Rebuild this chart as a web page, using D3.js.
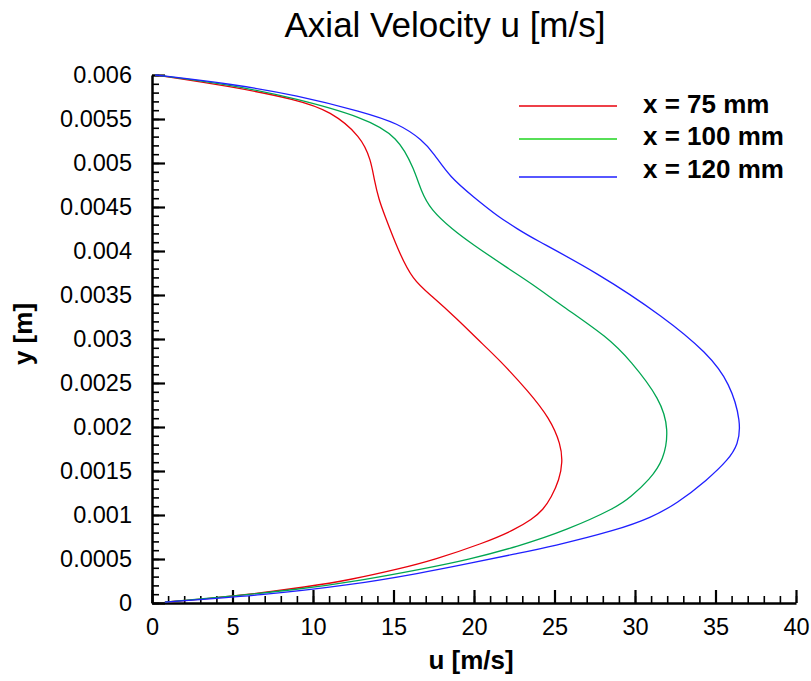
<!DOCTYPE html>
<html>
<head>
<meta charset="utf-8">
<script src="https://cdn.jsdelivr.net/npm/d3@7"></script>
<style>
  body { margin: 0; background: #fff; }
  text { font-family: Arial, "Liberation Sans", sans-serif; }
</style>
</head>
<body>
<svg id="chart"></svg>
<script>
// profiles: [u (m/s), y (m)]
const x75 = [
    [0.8, 0.00001], [4.9, 0.00007], [9.9, 0.00019], [12.2, 0.00026], [15.4, 0.00039],
    [17.5, 0.00049], [20.6, 0.00068], [22.5, 0.00083], [23.6, 0.00095], [24.3, 0.00106],
    [24.8, 0.0012], [25.3, 0.0014], [25.5, 0.0016], [25.4, 0.0018], [24.7, 0.0021],
    [23.4, 0.0024], [21.6, 0.00276], [20.2, 0.0030], [19.0, 0.00322], [17.3, 0.0035],
    [16.2, 0.00367], [15.3, 0.0040], [14.4, 0.00443], [14.1, 0.00458], [13.8, 0.00481],
    [13.6, 0.00503], [13.0, 0.0053], [11.1, 0.00559], [9.0, 0.00572], [4.9, 0.00587],
    [0.2, 0.006]
];
const x100 = [
    [0.8, 0.00001], [3.9, 0.00006], [9.0, 0.00015], [13.1, 0.00026], [16.9, 0.00039],
    [19.6, 0.00049], [22.7, 0.00064], [25.8, 0.00083], [28.9, 0.00109], [29.7, 0.0012],
    [30.9, 0.0014], [31.8, 0.00163], [32.1, 0.00197], [31.6, 0.00231], [29.7, 0.00276],
    [28.3, 0.00302], [25.6, 0.00336], [23.5, 0.00364], [22.3, 0.00378], [19.8, 0.00409],
    [18.7, 0.00424], [17.3, 0.00447], [16.7, 0.00469], [16.3, 0.00492], [15.3, 0.0053],
    [13.1, 0.00552], [9.0, 0.00573], [4.9, 0.00589], [0.2, 0.006]
];
const x120 = [
    [0.8, 0.00001], [6.9, 0.00009], [12.2, 0.0002], [16.7, 0.00034], [19.7, 0.00045],
    [22.6, 0.00056], [24.8, 0.00064], [28.9, 0.00083], [31.0, 0.00097], [32.6, 0.00113],
    [34.5, 0.0014], [35.8, 0.00163], [36.4, 0.0018], [36.6, 0.00205], [35.9, 0.0025],
    [34.5, 0.00284], [31.8, 0.00325], [27.7, 0.00375], [23.5, 0.00416], [22.8, 0.00424],
    [21.5, 0.00439], [20.0, 0.00461], [18.5, 0.00484], [17.5, 0.00511], [16.8, 0.00526],
    [15.3, 0.00545], [13.1, 0.00558], [9.0, 0.00577], [4.9, 0.0059], [0.2, 0.006]
];

const seriesNames = ["x = 75 mm", "x = 100 mm", "x = 120 mm"];
const seriesData = [x75, x100, x120];
const lineColors = ["#e8000b", "#00a651", "#1f1fff"];
const legendColors = ["#e8000b", "#1fd41f", "#1f1fff"];

const uTicks = [0, 5, 10, 15, 20, 25, 30, 35, 40];
const yTicks = [0, 0.0005, 0.001, 0.0015, 0.002, 0.0025, 0.003, 0.0035, 0.004, 0.0045, 0.005, 0.0055, 0.006];
const yTickLabels = ["0", "0.0005", "0.001", "0.0015", "0.002", "0.0025", "0.003", "0.0035", "0.004", "0.0045", "0.005", "0.0055", "0.006"];

const width = 811, height = 681;
const svg = d3.select("#chart").attr("width", width).attr("height", height);

const x = d3.scaleLinear().domain([0, 40]).range([152, 796]);
const y = d3.scaleLinear().domain([0, 0.006]).range([603, 75]);

// minor ticks first, then major axes on top
svg.append("g")
    .attr("transform", `translate(0,${y(0)})`)
    .call(d3.axisBottom(x).ticks(40).tickSize(-7).tickFormat("").tickSizeOuter(0))
    .call(g => g.select(".domain").remove())
    .call(g => g.selectAll("line").attr("stroke-width", 1.6));
svg.append("g")
    .attr("transform", `translate(${x(0)},0)`)
    .call(d3.axisLeft(y).tickValues(d3.range(61).map(i => i * 0.0001)).tickSize(-7).tickFormat("").tickSizeOuter(0))
    .call(g => g.select(".domain").remove())
    .call(g => g.selectAll("line").attr("stroke-width", 1.6));

const xAxis = svg.append("g")
    .attr("transform", `translate(0,${y(0)})`)
    .call(d3.axisBottom(x).tickValues(uTicks).tickSize(-13).tickSizeOuter(0).tickPadding(15));
const yAxis = svg.append("g")
    .attr("transform", `translate(${x(0)},0)`)
    .call(d3.axisLeft(y).tickValues(yTicks).tickFormat((d, i) => yTickLabels[i])
        .tickSize(-13).tickSizeOuter(0).tickPadding(20));

[xAxis, yAxis].forEach(a => {
    a.select(".domain").attr("stroke-width", 2.5);
    a.selectAll("line").attr("stroke-width", 2.2);
    a.selectAll("text").attr("font-size", 23.5).attr("fill", "#000")
        .style("font-family", "Arial, 'Liberation Sans', sans-serif");
});
xAxis.selectAll("text").attr("dy", "0.71em");

const line = d3.line()
    .x(d => x(d[0]))
    .y(d => y(d[1]))
    .curve(d3.curveBasis);

svg.append("g")
    .selectAll("path")
    .data(seriesData)
    .join("path")
        .attr("d", line)
        .attr("fill", "none")
        .attr("stroke", (d, i) => lineColors[i])
        .attr("stroke-width", 1.3);

// title and axis labels
svg.append("text")
    .attr("x", 445).attr("y", 37)
    .attr("text-anchor", "middle")
    .attr("font-size", 35)
    .text("Axial Velocity u [m/s]");
svg.append("text")
    .attr("x", 471).attr("y", 669)
    .attr("text-anchor", "middle")
    .attr("font-size", 26).attr("font-weight", "bold")
    .text("u [m/s]");
svg.append("text")
    .attr("transform", "translate(32,334) rotate(-90)")
    .attr("text-anchor", "middle")
    .attr("font-size", 26).attr("font-weight", "bold")
    .text("y [m]");

// legend
const legendLineY = [106, 139, 177];
const legendTextY = [113, 145, 178];
const legend = svg.append("g");
legend.selectAll("line")
    .data(seriesNames)
    .join("line")
        .attr("x1", 519).attr("x2", 617)
        .attr("y1", (d, i) => legendLineY[i]).attr("y2", (d, i) => legendLineY[i])
        .attr("stroke", (d, i) => legendColors[i])
        .attr("stroke-width", 1.3);
legend.selectAll("text")
    .data(seriesNames)
    .join("text")
        .attr("x", 643)
        .attr("y", (d, i) => legendTextY[i])
        .attr("font-size", 26).attr("font-weight", "bold")
        .text(d => d);
</script>
</body>
</html>
